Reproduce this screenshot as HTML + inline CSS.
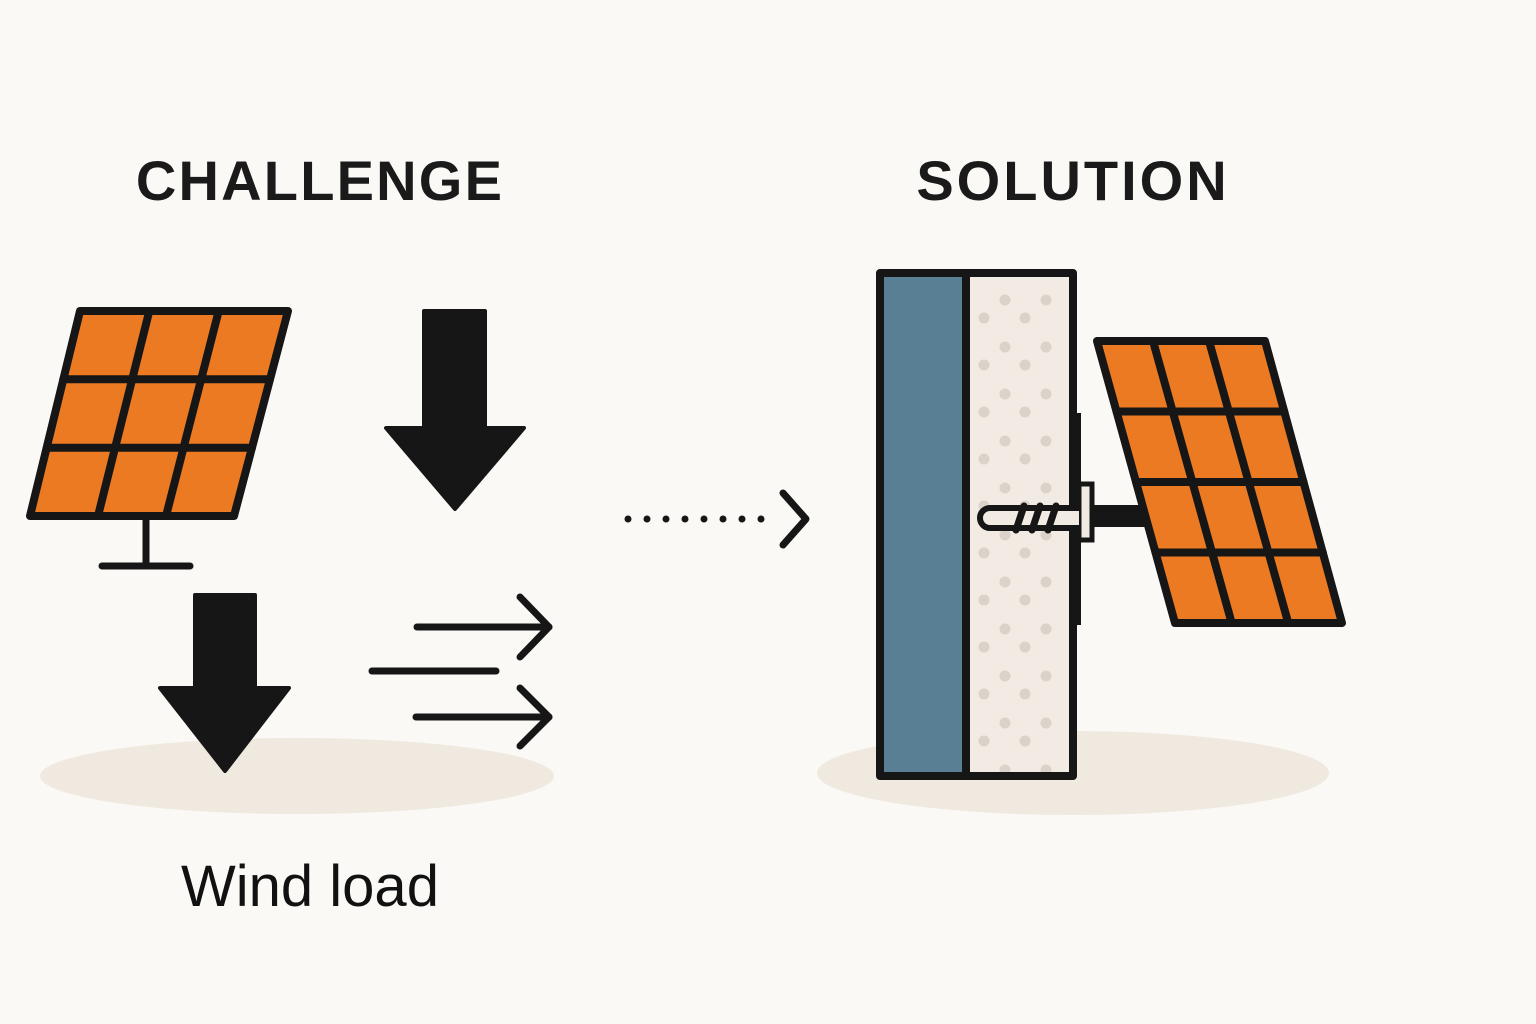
<!DOCTYPE html>
<html><head><meta charset="utf-8"><style>
html,body{margin:0;padding:0;background:#fbf9f5;}
svg{display:block}
</style></head><body>
<svg width="1536" height="1024" viewBox="0 0 1536 1024" xmlns="http://www.w3.org/2000/svg">
<defs>
<pattern id="dots" x="974" y="290" width="41" height="47" patternUnits="userSpaceOnUse">
<circle cx="31" cy="10" r="5.5" fill="#dbd2c9"/>
<circle cx="10" cy="28" r="5.5" fill="#dbd2c9"/>
</pattern>
</defs>
<rect width="1536" height="1024" fill="#fbf9f5"/>
<ellipse cx="297" cy="776" rx="257" ry="38" fill="#efe9e0"/>
<ellipse cx="1073" cy="773" rx="256" ry="42" fill="#efe9e0"/>

<text x="320" y="200" text-anchor="middle" font-family="Liberation Sans, sans-serif" font-weight="bold" font-size="56" letter-spacing="2.2" fill="#1a1a1a">CHALLENGE</text>
<text x="1073" y="200" text-anchor="middle" font-family="Liberation Sans, sans-serif" font-weight="bold" font-size="56" letter-spacing="3" fill="#1a1a1a">SOLUTION</text>
<text x="310" y="906" text-anchor="middle" font-family="Liberation Sans, sans-serif" font-size="58" fill="#111">Wind load</text>

<!-- left panel -->
<g stroke="#161616" stroke-linejoin="round" stroke-linecap="round">
<polygon points="80,311 288,311 234,516 30,516" fill="#ec7a22" stroke-width="8"/>
<line x1="149.3" y1="311" x2="98" y2="516" stroke-width="8"/>
<line x1="218.7" y1="311" x2="166" y2="516" stroke-width="8"/>
<line x1="63.3" y1="379.3" x2="270" y2="379.3" stroke-width="8"/>
<line x1="46.7" y1="447.7" x2="252" y2="447.7" stroke-width="8"/>
<line x1="146" y1="516" x2="146" y2="566" stroke-width="7"/>
<line x1="102" y1="566" x2="190" y2="566" stroke-width="7"/>
</g>
<!-- down arrows -->
<path d="M424,311 H485 V428 H524 L455,509 L386,428 H424 Z" fill="#161616" stroke="#161616" stroke-width="4" stroke-linejoin="round"/>
<path d="M195,595 H255 V688 H289 L225,771 L160,688 H195 Z" fill="#161616" stroke="#161616" stroke-width="4" stroke-linejoin="round"/>
<!-- wind lines -->
<g stroke="#161616" stroke-width="7" stroke-linecap="round" stroke-linejoin="round" fill="none">
<line x1="417" y1="627" x2="549" y2="627"/>
<polyline points="520,597 549,627 520,657"/>
<line x1="372" y1="671" x2="496" y2="671"/>
<line x1="416" y1="717" x2="549" y2="717"/>
<polyline points="520,688 549,717 520,746"/>
<polyline points="783,493 806,519 783,545"/>
</g>
<g fill="#161616">
<circle cx="628" cy="519" r="3.5"/><circle cx="647" cy="519" r="3.5"/><circle cx="666" cy="519" r="3.5"/><circle cx="685" cy="519" r="3.5"/><circle cx="704" cy="519" r="3.5"/><circle cx="723" cy="519" r="3.5"/><circle cx="742" cy="519" r="3.5"/><circle cx="761" cy="519" r="3.5"/>
</g>

<!-- wall -->
<rect x="1073" y="413" width="8" height="212" fill="#161616"/>
<rect x="880" y="273" width="87" height="503" fill="#587f94"/>
<rect x="967" y="273" width="106" height="503" fill="#f1ebe3"/>
<rect x="967" y="273" width="89" height="503" fill="url(#dots)"/>
<rect x="880" y="273" width="193" height="503" fill="none" stroke="#161616" stroke-width="8" stroke-linejoin="round"/>
<line x1="966" y1="273" x2="966" y2="776" stroke="#161616" stroke-width="8"/>

<!-- anchor -->
<rect x="1090" y="505" width="62" height="22" fill="#161616"/>
<rect x="1079" y="484" width="13" height="56" fill="#f1ebe3" stroke="#161616" stroke-width="5"/>
<path d="M1079,508 H990 a10,10 0 0 0 0,20 H1079" fill="#f1ebe3" stroke="#161616" stroke-width="6"/>
<g stroke="#161616" stroke-width="7" stroke-linecap="round">
<line x1="1016" y1="530" x2="1024" y2="506"/>
<line x1="1032" y1="530" x2="1040" y2="506"/>
<line x1="1048" y1="530" x2="1056" y2="506"/>
</g>

<!-- right panel -->
<g stroke="#161616" stroke-linejoin="round" stroke-linecap="round">
<polygon points="1097,341 1265,341 1342,623 1175,623" fill="#ec7a22" stroke-width="8"/>
<line x1="1153" y1="341" x2="1231.7" y2="623" stroke-width="8"/>
<line x1="1209" y1="341" x2="1288.3" y2="623" stroke-width="8"/>
<line x1="1116.5" y1="411.5" x2="1284.3" y2="411.5" stroke-width="8"/>
<line x1="1136" y1="482" x2="1303.5" y2="482" stroke-width="8"/>
<line x1="1155.5" y1="552.5" x2="1322.8" y2="552.5" stroke-width="8"/>
</g>
</svg>
</body></html>
